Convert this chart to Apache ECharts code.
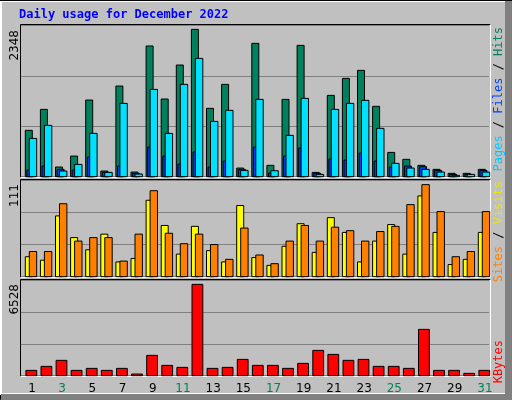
<!DOCTYPE html>
<html><head><meta charset="utf-8">
<script src="https://cdn.jsdelivr.net/npm/echarts@6/dist/echarts.min.js"></script>
<style>html,body{margin:0;padding:0;background:#c0c0c0}#c{width:512px;height:400px}</style>
</head><body><div id="c"></div>
<script>
const days = ['1','2','3','4','5','6','7','8','9','10','11','12','13','14','15','16','17','18','19','20','21','22','23','24','25','26','27','28','29','30','31'];
const weekend = [3,4,10,11,17,18,24,25,31];
const hits  = [719,1044,150,320,1189,88,1406,72,2027,1205,1732,2285,1060,1432,134,2068,176,1199,2037,67,1261,1525,1649,1091,377,269,176,114,52,52,114];
const files = [103,165,114,103,305,67,165,52,460,320,196,383,150,243,114,460,57,320,445,52,274,258,367,243,150,165,155,98,36,36,98];
const pages = [594,796,88,191,672,67,1137,41,1354,672,1432,1835,858,1029,98,1199,93,641,1215,36,1044,1137,1184,750,207,134,114,72,21,36,72];
const visits = [23,19,70,45,31,49,17,21,88,59,26,58,30,17,82,22,13,35,61,28,68,51,17,41,60,26,93,51,14,20,51];
const sites  = [29,29,84,41,45,45,18,49,99,50,38,49,37,20,56,25,15,41,59,41,57,53,41,52,58,83,106,75,23,29,75];
const kbytes = [365,639,1050,365,502,365,502,114,1391,707,570,6250,502,570,1117,707,707,502,844,1733,1459,1050,1117,639,639,502,3169,365,365,160,365];
const maxTop = 2348, maxMid = 111, maxBot = 6528;

const W = 15.1, L = 20.9, GW = W*31;
function bar(data, color, o1, o2, z){
  return {type:'custom', z:z, data:data.map((v,i)=>[i,v]),
    renderItem:(p,api)=>{
      const i=api.value(0), v=api.value(1);
      const base=api.coord([i,0]), top=api.coord([i,v]);
      const sx = base[0] - W/2;
      return {type:'rect', shape:{x:sx+o1, y:top[1], width:o2-o1, height:base[1]-top[1]},
        style:{fill:color, stroke:'#000', lineWidth:1}};
    }};
}
const grids=[{left:L,width:GW,top:25.3,height:151.4},{left:L,width:GW,top:180.3,height:96.4},{left:L,width:GW,top:280.3,height:95.4}];
const maxes=[maxTop,maxMid,maxBot];
const xAxis=grids.map((g,k)=>({type:'category',gridIndex:k,data:days,boundaryGap:true,
  axisLine:{show:false},axisTick:{show:false},
  axisLabel:{show:k===2,margin:7,padding:[0,0,0,7],fontFamily:'DejaVu Sans',fontSize:12,
    color:(v)=>weekend.includes(+v)?'#00805c':'#000'}}));
const yAxis=grids.map((g,k)=>({type:'value',gridIndex:k,min:0,max:maxes[k],interval:maxes[k]/3,
  axisLine:{show:false},axisTick:{show:false},axisLabel:{show:false},
  splitLine:{lineStyle:{color:'#808080',width:1}}}));
function S(s,k){s.xAxisIndex=k;s.yAxisIndex=k;return s;}
const series=[
  S(bar(hits,'#00805c',4.4,11.4,2),0),
  S(bar(files,'#0040ff',6,13,3),0),
  S(bar(pages,'#00e0ff',8.4,15.8,4),0),
  S(bar(visits,'#ffff00',4.4,11.4,2),1),
  S(bar(sites,'#ff8000',8.4,15.8,3),1),
  S(bar(kbytes,'#ff0000',5,15.8,2),2)
];
function panel(y1,y2){return [
  {type:'line',shape:{x1:20.5,y1:y1,x2:490.5,y2:y1},style:{stroke:'#000',lineWidth:1}},
  {type:'line',shape:{x1:20.5,y1:y1,x2:20.5,y2:y2},style:{stroke:'#000',lineWidth:1}},
  {type:'line',shape:{x1:20.5,y1:y2,x2:490.5,y2:y2},style:{stroke:'#fff',lineWidth:1}},
  {type:'line',shape:{x1:490.5,y1:y1,x2:490.5,y2:y2},style:{stroke:'#fff',lineWidth:1}}];}
function vtext(x,y,parts,align){
  return {type:'text',x:x,y:y,rotation:Math.PI/2,
    style:{rich:{a:{fill:'#000'}},text:parts,font:'12px "DejaVu Sans Mono"',textAlign:align||'left',textVerticalAlign:'middle'}};
}
function rtext(x,y,arr){ // arr of [text,color], reading bottom to top
  const rich={};let txt='';
  arr.forEach((p,i)=>{rich['r'+i]={fill:p[1],font:'12px "DejaVu Sans Mono"'};txt+='{r'+i+'|'+p[0]+'}';});
  return {type:'text',x:x,y:y,rotation:Math.PI/2,style:{rich:rich,text:txt,textAlign:'right',textVerticalAlign:'middle'}};
}
function ltext(x,y,t){return {type:'text',x:x,y:y,rotation:Math.PI/2,style:{text:t,fill:'#000',font:'12px "DejaVu Sans"',textAlign:'right',textVerticalAlign:'middle'}};}
const graphic=[
  {type:'rect',shape:{x:0.5,y:0.5,width:511,height:399},style:{fill:'none',stroke:'#000',lineWidth:1},z:-1},
  {type:'rect',shape:{x:1,y:1,width:505,height:393},style:{fill:'none',stroke:'#fff',lineWidth:2}},
  {type:'rect',shape:{x:505,y:1,width:7,height:399},style:{fill:'#808080'}},
  {type:'rect',shape:{x:1,y:394,width:511,height:6},style:{fill:'#808080'}},
  {type:'rect',shape:{x:0,y:0,width:512,height:1},style:{fill:'#000'}},
  {type:'text',x:19,y:15,style:{text:'Daily usage for December 2022',fill:'#0000ff',font:'bold 12px "DejaVu Sans Mono"',textVerticalAlign:'middle'}},
  ...panel(24.5,177.5),...panel(179.5,277.5),...panel(279.5,376.5),
  ltext(15,30,'2348'),ltext(15,184,'111'),ltext(15,284,'6528'),
  rtext(499,27,[['Pages','#00c8ff'],[' / ','#000'],['Files','#0040ff'],[' / ','#000'],['Hits','#00805c']]),
  rtext(499,181,[['Sites','#ff8000'],[' / ','#000'],['Visits','#e8e800']]),
  rtext(499,340,[['KBytes','#ff0000']])
];
const chart=echarts.init(document.getElementById('c'));
chart.setOption({backgroundColor:'#c0c0c0',animation:false,grid:grids,xAxis:xAxis,yAxis:yAxis,series:series,graphic:graphic});
</script></body></html>
